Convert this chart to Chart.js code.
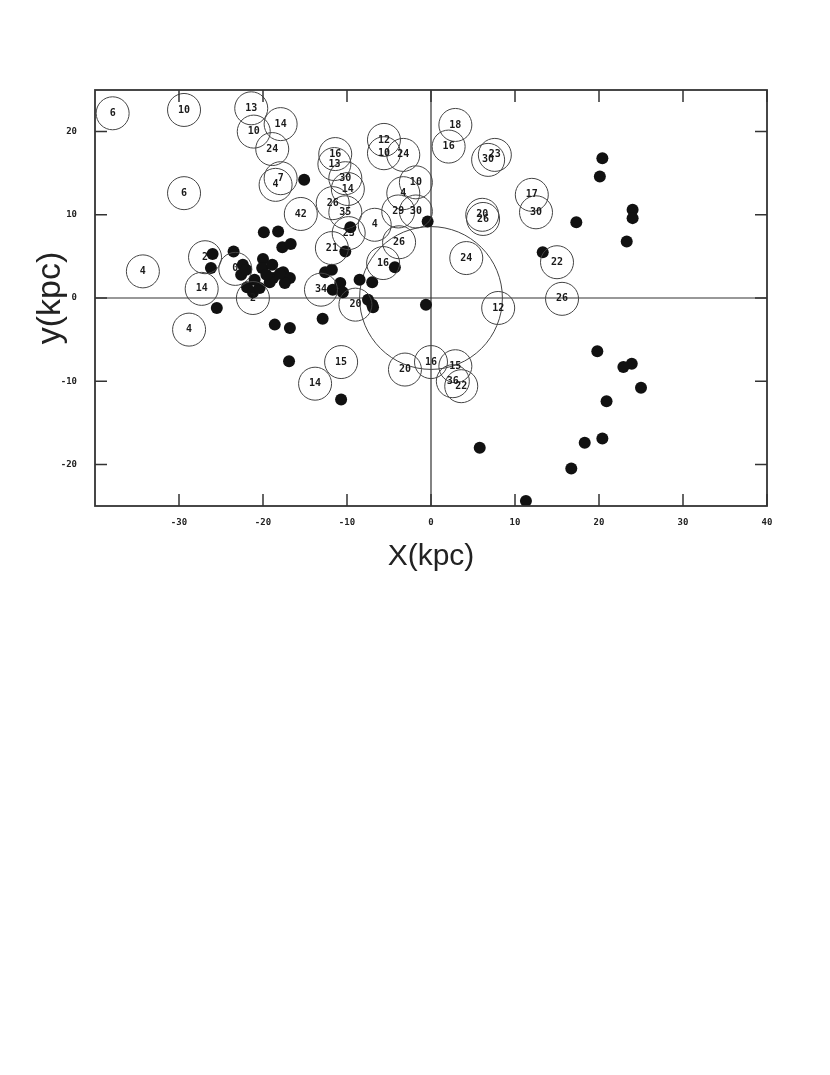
<!DOCTYPE html>
<html>
<head>
<meta charset="utf-8">
<script src="https://cdn.jsdelivr.net/npm/chart.js@4.4.0/dist/chart.umd.min.js"></script>
<style>
body { margin: 0; background: #fff; }
canvas { display: block; }
</style>
</head>
<body>
<canvas id="g1" width="830" height="1075"></canvas>
<script>
// open circles (labelled)
var ringX = [-37.9, -29.4, -21.4, -17.9, -21.1, -18.9, -17.9, -18.5, -29.4, -15.5,
  -11.4, -11.5, -10.2, -9.9, -11.7, -10.2, -5.6, -5.6, -3.3, -1.8,
  -3.3, -3.9, -1.8, 2.9, 2.1, 6.8, 7.6, 6.1, 6.2, 12.0,
  12.5, -6.7, -3.8, -9.8, -11.8, -5.7, 4.2, 8.0, 15.0, 15.6,
  -26.9, -34.3, -23.3, -27.3, -21.2, -28.8, -13.1, -9.0, -10.7, -13.8,
  -3.1, 0.0, 2.9, 2.6, 3.6];
var ringY = [22.2, 22.6, 22.8, 20.9, 20.0, 17.9, 14.4, 13.6, 12.6, 10.1,
  17.3, 16.1, 14.4, 13.1, 11.4, 10.3, 19.0, 17.4, 17.2, 13.9,
  12.6, 10.4, 10.4, 20.8, 18.2, 16.6, 17.2, 10.0, 9.5, 12.4,
  10.3, 8.8, 6.7, 7.8, 6.0, 4.2, 4.8, -1.2, 4.3, -0.1,
  4.9, 3.2, 3.5, 1.1, 0.0, -3.8, 1.0, -0.8, -7.7, -10.3,
  -8.6, -7.7, -8.2, -10.0, -10.6];
var ringLabels = ["6", "10", "13", "14", "10", "24", "7", "4", "6", "42",
  "16", "13", "30", "14", "26", "35", "12", "10", "24", "10",
  "4", "29", "30", "18", "16", "30", "23", "20", "26", "17",
  "30", "4", "26", "23", "21", "16", "24", "12", "22", "26",
  "2", "4", "0", "14", "2", "4", "34", "20", "15", "14",
  "20", "16", "15", "36", "22"];

// filled dots
var dotX = [20.4, 20.1, 24.0, 24.0, 17.3, 23.3, 13.3, 19.8, 23.9, 22.9,
  25.0, 20.9, 20.4, 18.3, 16.7, 11.3, 5.8,
  -0.4, -0.6, -4.3, -15.1, -10.7, -9.6, -10.2, -12.6, -11.8, -8.5,
  -7.0, -10.8, -11.7, -10.5, -7.5, -7.0, -6.9, -12.9,
  -19.9, -18.2, -17.7, -16.7, -26.0, -23.5, -26.2, -22.4, -22.6, -20.0,
  -20.1, -18.9, -18.8, -17.6, -16.8, -17.4, -19.2, -21.9, -21.2, -20.4,
  -25.5, -18.6, -16.8, -16.9, -21.0, -18.0, -19.6, -22.0];
var dotY = [16.8, 14.6, 10.6, 9.6, 9.1, 6.8, 5.5, -6.4, -7.9, -8.3,
  -10.8, -12.4, -16.9, -17.4, -20.5, -24.4, -18.0,
  9.2, -0.8, 3.7, 14.2, -12.2, 8.5, 5.6, 3.1, 3.4, 2.2,
  1.9, 1.8, 1.0, 0.7, -0.2, -0.8, -1.1, -2.5,
  7.9, 8.0, 6.1, 6.5, 5.3, 5.6, 3.6, 4.0, 2.8, 4.7,
  3.6, 4.0, 2.4, 3.1, 2.4, 1.8, 1.9, 1.3, 0.7, 1.2,
  -1.2, -3.2, -3.6, -7.6, 2.2, 2.9, 2.8, 3.4];

var xTicks = [-30, -20, -10, 0, 10, 20, 30, 40];
var yTicks = [-20, -10, 0, 10, 20];
var orbitRadius = 8.5;

var rings = ringX.map(function (v, i) { return { x: v, y: ringY[i] }; });
var dots = dotX.map(function (v, i) { return { x: v, y: dotY[i] }; });

var extras = {
  id: 'extras',
  beforeDatasetsDraw: function (chart) {
    var ctx = chart.ctx, a = chart.chartArea;
    var sx = chart.scales.x, sy = chart.scales.y;
    var x0 = sx.getPixelForValue(0), y0 = sy.getPixelForValue(0);
    ctx.save();
    ctx.strokeStyle = '#333';
    ctx.lineWidth = 1.2;
    ctx.beginPath();
    ctx.moveTo(x0, a.top); ctx.lineTo(x0, a.bottom);
    ctx.moveTo(a.left, y0); ctx.lineTo(a.right, y0);
    ctx.stroke();
    // sun orbit
    var r = sx.getPixelForValue(orbitRadius) - x0;
    ctx.lineWidth = 1;
    ctx.strokeStyle = '#444';
    ctx.beginPath();
    ctx.arc(x0, y0, r, 0, Math.PI * 2);
    ctx.stroke();
    ctx.restore();
  },
  afterDatasetsDraw: function (chart) {
    var ctx = chart.ctx, a = chart.chartArea;
    var sx = chart.scales.x, sy = chart.scales.y;
    ctx.save();
    ctx.font = 'bold 10px "DejaVu Sans Mono"';
    ctx.textAlign = 'center';
    ctx.textBaseline = 'middle';
    ctx.fillStyle = '#1a1a1a';
    chart.getDatasetMeta(0).data.forEach(function (p, i) {
      ctx.fillText(ringLabels[i], p.x, p.y);
    });
    // frame + inward ticks
    ctx.strokeStyle = '#333';
    ctx.lineWidth = 1.8;
    ctx.strokeRect(a.left, a.top, a.right - a.left, a.bottom - a.top);
    ctx.lineWidth = 1.5;
    ctx.beginPath();
    sx.ticks.forEach(function (t) {
      var px = sx.getPixelForValue(t.value);
      ctx.moveTo(px, a.bottom); ctx.lineTo(px, a.bottom - 12);
      ctx.moveTo(px, a.top); ctx.lineTo(px, a.top + 12);
    });
    sy.ticks.forEach(function (t) {
      var py = sy.getPixelForValue(t.value);
      ctx.moveTo(a.left, py); ctx.lineTo(a.left + 12, py);
      ctx.moveTo(a.right, py); ctx.lineTo(a.right - 12, py);
    });
    ctx.stroke();
    ctx.restore();
  }
};

var g1 = document.getElementById('g1').getContext('2d');
var myG1 = new Chart(g1, {
  type: 'scatter',
  data: {
    datasets: [{
      label: 'rings',
      data: rings,
      pointRadius: 16.5,
      pointHoverRadius: 16.5,
      backgroundColor: 'rgba(0,0,0,0)',
      borderColor: '#444',
      borderWidth: 1
    }, {
      label: 'dots',
      data: dots,
      pointRadius: 6,
      pointHoverRadius: 6,
      backgroundColor: '#111',
      borderColor: '#111',
      borderWidth: 0
    }]
  },
  options: {
    responsive: false,
    animation: false,
    events: [],
    layout: { padding: { top: 90, right: 63, left: 0, bottom: 499 } },
    plugins: { legend: { display: false }, tooltip: { enabled: false } },
    scales: {
      x: {
        type: 'linear',
        min: -40,
        max: 40,
        afterBuildTicks: function (s) { s.ticks = xTicks.map(function (v) { return { value: v }; }); },
        afterFit: function (s) { s.height = 70; },
        grid: { display: false, drawTicks: false },
        border: { display: false },
        ticks: { padding: 11, color: '#222', font: { family: 'DejaVu Sans Mono', weight: 'bold', size: 9 } },
        title: { display: true, text: 'X(kpc)', color: '#222', padding: { top: 0, bottom: 1 },
          font: { family: 'Liberation Sans', size: 30, weight: 'normal' } }
      },
      y: {
        type: 'linear',
        min: -25,
        max: 25,
        afterBuildTicks: function (s) { s.ticks = yTicks.map(function (v) { return { value: v }; }); },
        afterFit: function (s) { s.width = 95; },
        grid: { display: false, drawTicks: false },
        border: { display: false },
        ticks: { padding: 18, color: '#222', font: { family: 'DejaVu Sans Mono', weight: 'bold', size: 9 } },
        title: { display: true, text: 'y(kpc)', color: '#222', padding: { top: 30, bottom: 0 },
          font: { family: 'Liberation Sans', size: 34, weight: 'normal' } }
      }
    }
  },
  plugins: [extras]
});
</script>
</body>
</html>
